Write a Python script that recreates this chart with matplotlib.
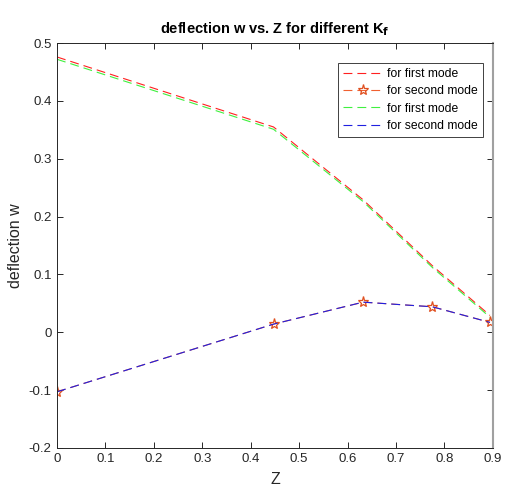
import numpy as np
import matplotlib.pyplot as plt

plt.rcParams['font.family'] = ['Liberation Sans', 'DejaVu Sans']

z = [0.0, 0.447, 0.632, 0.775, 0.894]
w_first_a = [0.476, 0.355, 0.229, 0.115, 0.029]
w_first_b = [0.472, 0.351, 0.226, 0.112, 0.026]
w_second = [-0.103, 0.014, 0.052, 0.044, 0.017]

fig = plt.figure(figsize=(5.05, 4.9), dpi=100)
ax = fig.add_axes([0.113, 0.086, 0.863, 0.826])

dash = (8, 4.5)
ax.plot(z, w_first_a, '--', color='#FF2020', lw=0.8, dashes=dash, label='for first mode')
ax.plot(z, w_second, '--', color='#F06030', lw=0.8, dashes=dash, marker='*',
        ms=8, mfc='none', mec='#E05020', mew=0.9, label='for second mode')
ax.plot(z, w_first_b, '--', color='#40F040', lw=0.8, dashes=dash, label='for first mode')
ax.plot(z, w_second, '--', color='#2020E0', lw=0.8, dashes=dash, label='for second mode')

ax.set_xlim(0, 0.9)
ax.set_ylim(-0.2, 0.5)
ax.set_xticks(np.arange(0, 0.91, 0.1))
ax.set_xticklabels(['0', '0.1', '0.2', '0.3', '0.4', '0.5', '0.6', '0.7', '0.8', '0.9'])
ax.set_yticks(np.arange(-0.2, 0.51, 0.1))
ax.set_yticklabels(['-0.2', '-0.1', '0', '0.1', '0.2', '0.3', '0.4', '0.5'])
ax.tick_params(direction='in', top=True, right=True, length=4, width=0.7,
               labelsize=9.5, colors='#262626', pad=4)
for s in ax.spines.values():
    s.set_color('#262626')
    s.set_linewidth(0.7)
ax.spines['right'].set_color('#A0A0A0')
ax.spines['right'].set_linewidth(1.5)

ax.set_xlabel('Z', fontsize=11.5, color='#262626', labelpad=5)
ax.set_ylabel('deflection w', fontsize=11.5, color='#262626', labelpad=4)
ax.set_title('deflection w vs. Z for different K$_\\mathbf{f}$', fontsize=10.5,
             fontweight='bold', pad=7)

leg = ax.legend(loc='upper right', bbox_to_anchor=(0.977, 0.951), borderaxespad=0,
                fontsize=8.7, fancybox=False, framealpha=1, edgecolor='#404040',
                handlelength=3.4, borderpad=0.4, labelspacing=0.45, handletextpad=0.3)
leg.get_frame().set_linewidth(0.7)

fig.savefig('out.png', dpi=100)
